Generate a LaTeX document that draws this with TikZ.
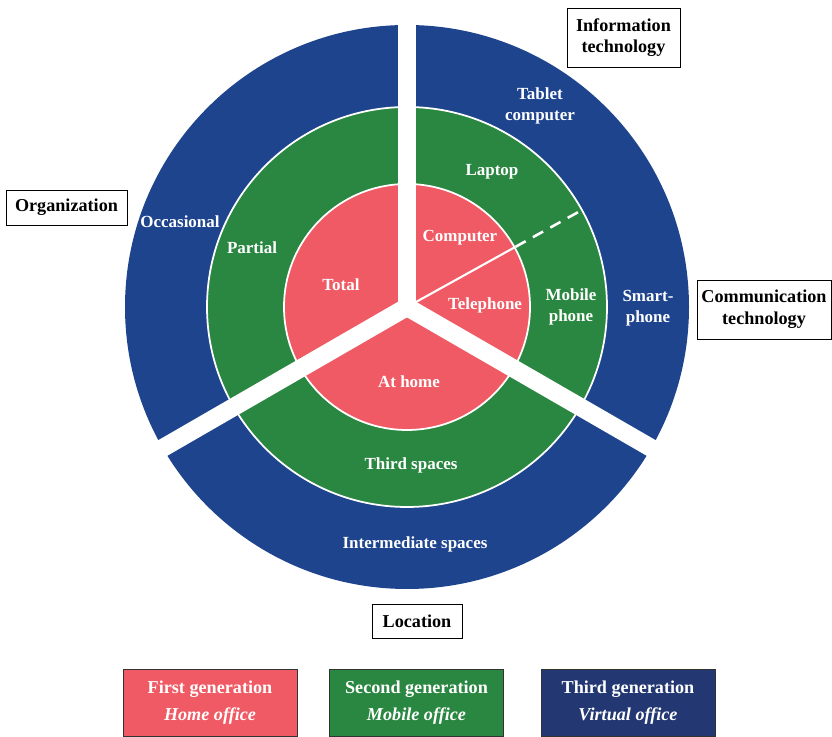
\documentclass[tikz,border=0pt]{standalone}
\usepackage{fontspec}
\setmainfont{Liberation Serif}
\definecolor{homepink}{RGB}{240,90,100}
\definecolor{mobilegreen}{RGB}{42,135,65}
\definecolor{virtualblue}{RGB}{30,68,142}
\definecolor{legendblue}{RGB}{35,56,115}

\begin{document}
\begin{tikzpicture}[x=0.03cm, y=0.03cm,
  ringtext/.style={text=white, align=center, font=\fontsize{14.5}{18}\selectfont\bfseries},
  labelbox/.style={draw=black, fill=white, line width=0.8pt, align=center, inner sep=0pt,
    font=\fontsize{15.5}{18.5}\selectfont\bfseries},
  genbox/.style={draw=black!80, line width=0.8pt, align=center, inner sep=0pt, text=white,
    minimum width=5.22cm, minimum height=2.01cm, font=\fontsize{15.5}{23.5}\selectfont\bfseries}]
\useasboundingbox (0,0) rectangle (832,737);
\coordinate (c) at (407,430);

% rings
\fill[virtualblue] (c) circle (282);
\filldraw[fill=mobilegreen, draw=white, line width=1.5pt] (c) circle (200);
\filldraw[fill=homepink, draw=white, line width=1.5pt] (c) circle (123);

% gaps between the sectors
\foreach \a in {90,210,330}
  \draw[white, line width=0.54cm] (c) -- ++(\a:300);
\fill[white] (c) circle (10.5);

% computer / telephone split
\draw[white, line width=1.8pt] (c) -- ++(29:123);
\draw[white, line width=2.2pt, dash pattern=on 10pt off 7pt] (c) ++(29:124) -- ++(29:77);

% ring labels
\node[ringtext] (tablet) at (540,631) {Tablet\\computer};
\node[ringtext] (laptop) at (492,565) {Laptop};
\node[ringtext] (computer) at (460,499) {Computer};
\node[ringtext] (telephone) at (485,432) {Telephone};
\node[ringtext] (mobile) at (571,430) {Mobile\\phone};
\node[ringtext] (smart) at (648,429) {Smart-\\phone};
\node[ringtext] (occasional) at (180,515) {Occasional};
\node[ringtext] (partial) at (252,489) {Partial};
\node[ringtext] (total) at (341,452) {Total};
\node[ringtext] (athome) at (409,355) {At home};
\node[ringtext] (third) at (411,272) {Third spaces};
\node[ringtext] (intermediate) at (415,193) {Intermediate spaces};

% dimension boxes
\node[labelbox, minimum width=3.39cm, minimum height=1.77cm] (infotech) at (623.5,699.5) {Information\\technology};
\node[labelbox, minimum width=3.63cm, minimum height=1.05cm] (organization) at (66.5,529.5) {Organization};
\node[labelbox, minimum width=4.02cm, minimum height=1.77cm] (commtech) at (764,427.5) {Communication\\technology};
\node[labelbox, minimum width=2.7cm, minimum height=1.02cm] (location) at (417,116) {Location};

% legend
\node[genbox, fill=homepink] (first) at (210,34.5) {First generation\\\textit{Home office}};
\node[genbox, fill=mobilegreen] (second) at (416.5,34.5) {Second generation\\\textit{Mobile office}};
\node[genbox, fill=legendblue] (thirdgen) at (628,34.5) {Third generation\\\textit{Virtual office}};
\end{tikzpicture}
\end{document}
